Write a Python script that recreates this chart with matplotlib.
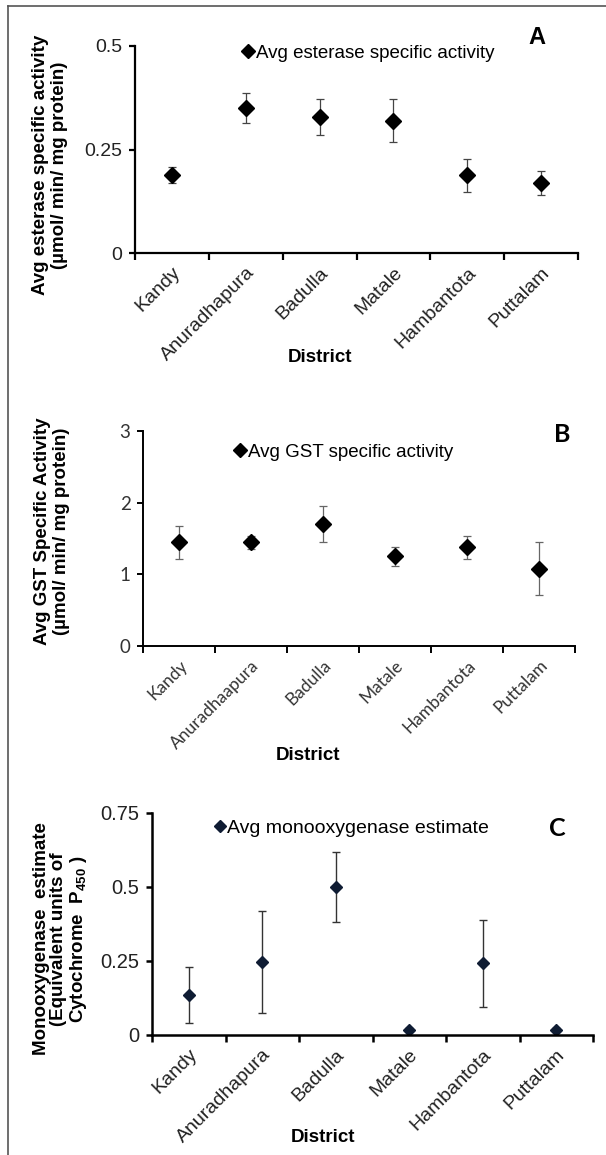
import numpy as np
import matplotlib.pyplot as plt
from matplotlib.lines import Line2D

plt.rcParams['font.family'] = ['Liberation Sans', 'DejaVu Sans']
plt.rcParams['mathtext.fontset'] = 'custom'
plt.rcParams['mathtext.bf'] = 'Liberation Sans:bold'
plt.rcParams['mathtext.rm'] = 'Liberation Sans:bold'
plt.rcParams['mathtext.default'] = 'bf'

# data
districts = ['Kandy', 'Anuradhapura', 'Badulla', 'Matale', 'Hambantota', 'Puttalam']
districts_b = ['Kandy', 'Anuradhaapura', 'Badulla', 'Matale', 'Hambantota', 'Puttalam']

esterase = [0.188, 0.350, 0.328, 0.320, 0.188, 0.169]
esterase_err = [0.020, 0.036, 0.044, 0.051, 0.040, 0.029]

gst = [1.45, 1.45, 1.70, 1.25, 1.38, 1.08]
gst_err = [0.23, 0.09, 0.25, 0.13, 0.16, 0.37]

mono = [0.135, 0.246, 0.500, 0.018, 0.242, 0.018]
mono_err = [0.095, 0.172, 0.119, 0.004, 0.147, 0.004]

W, H = 606, 1155
fig = plt.figure(figsize=(W / 100, H / 100), dpi=100)


def px_axes(l, t, r, b):
    return fig.add_axes([l / W, 1 - b / H, (r - l) / W, (b - t) / H])


def style_axes(ax, labels, tickfont, xsize, ysize, lw, color='black'):
    x = np.arange(len(labels))
    ax.set_xlim(-0.5, len(labels) - 0.5)
    ax.spines['top'].set_visible(False)
    ax.spines['right'].set_visible(False)
    ax.spines['left'].set_linewidth(lw)
    ax.spines['bottom'].set_linewidth(lw)
    # boundary ticks like a spreadsheet chart, labels centred on categories
    ax.set_xticks(np.arange(len(labels) + 1) - 0.5, minor=True)
    ax.tick_params(axis='x', which='minor', length=5, width=lw, direction='out')
    ax.set_xticks(x)
    ax.set_xticklabels(labels, rotation=45, ha='right', va='top', rotation_mode='anchor',
                       fontsize=xsize, family=tickfont, color=color)
    ax.tick_params(axis='x', which='major', length=0, pad=8)
    ax.tick_params(axis='y', length=4, width=lw, direction='out', labelsize=ysize, pad=5,
                   labelcolor=color)
    for t in ax.get_yticklabels():
        t.set_family(tickfont)
    return x


# ---- A: esterase
axA = px_axes(135, 46, 578, 253)
x = style_axes(axA, districts, ['Liberation Sans'], 14, 14, 1.6, '#222222')
axA.errorbar(x, esterase, yerr=esterase_err, fmt='none', ecolor='#444444', elinewidth=0.9, capsize=3, capthick=0.9)
axA.plot(x, esterase, 'D', color='black', markersize=8.5, label='Avg esterase specific activity')
axA.set_ylim(0, 0.5)
axA.set_yticks([0, 0.25, 0.5])
axA.set_yticklabels(['0', '0.25', '0.5'], family=['Liberation Sans'])
axA.legend(loc='center left', bbox_to_anchor=(242 / W, 1 - 53 / H), bbox_transform=fig.transFigure,
           frameon=False, fontsize=13.5, handlelength=0.6, handletextpad=0.15, borderpad=0, borderaxespad=0,
           markerscale=0.8)
fig.text(537 / W, 1 - 37 / H, 'A', fontsize=17, fontweight='bold', ha='center', va='center')
fig.text(50 / W, 1 - 165 / H, 'Avg esterase specific activity\n(µmol/ min/ mg protein)', rotation=90,
         fontsize=13.5, fontweight='bold', ha='center', va='center', multialignment='center', linespacing=1.1)
fig.text(320 / W, 1 - 358 / H, 'District', fontsize=13.5, fontweight='bold', ha='center', va='center')

# ---- B: GST
axB = px_axes(143, 431, 575, 646)
x = style_axes(axB, districts_b, ['Lato', 'DejaVu Sans'], 12.5, 13.5, 1.4, '#333333')
axB.errorbar(x, gst, yerr=gst_err, fmt='none', ecolor='#666666', elinewidth=0.9, capsize=3, capthick=0.9)
axB.plot(x, gst, 'D', color='black', markersize=8.5, label='Avg GST specific activity')
axB.set_ylim(0, 3)
axB.set_yticks([0, 1, 2, 3])
axB.set_yticklabels(['0', '1', '2', '3'], family=['Lato'])
axB.legend(loc='center left', bbox_to_anchor=(234 / W, 1 - 452 / H), bbox_transform=fig.transFigure,
           frameon=False, fontsize=13.5, handlelength=0.6, handletextpad=0.15, borderpad=0, borderaxespad=0,
           markerscale=0.8)
fig.text(562 / W, 1 - 434 / H, 'B', fontsize=18, fontweight='bold', family=['Lato'], ha='center', va='center')
fig.text(52 / W, 1 - 531 / H, 'Avg GST Specific Activity\n(µmol/ min/ mg protein)', rotation=90,
         fontsize=13.5, fontweight='bold', ha='center', va='center', multialignment='center', linespacing=1.1)
fig.text(308 / W, 1 - 755 / H, 'District', fontsize=13.5, fontweight='bold', ha='center', va='center')

# ---- C: monooxygenase
axC = px_axes(152, 813, 593, 1035)
x = style_axes(axC, districts, ['Liberation Sans'], 14, 14.5, 1.8, '#222222')
axC.errorbar(x, mono, yerr=mono_err, fmt='none', ecolor='#333333', elinewidth=1.0, capsize=3, capthick=1.0)
axC.plot(x, mono, 'D', color='#0f1c33', markersize=6.5, label='Avg monooxygenase estimate')
axC.set_ylim(0, 0.75)
axC.set_yticks([0, 0.25, 0.5, 0.75])
axC.set_yticklabels(['0', '0.25', '0.5', '0.75'], family=['Liberation Sans'])
axC.legend(loc='center left', bbox_to_anchor=(215 / W, 1 - 828 / H), bbox_transform=fig.transFigure,
           frameon=False, fontsize=14, handlelength=0.5, handletextpad=0.1, borderpad=0, borderaxespad=0,
           markerscale=0.9)
fig.text(557 / W, 1 - 829 / H, 'C', fontsize=18, fontweight='bold', family=['Lato'], ha='center', va='center')
fig.text(61 / W, 1 - 939 / H, 'Monooxygenase  estimate\n(Equivalent units of\nCytochrome  P$_{450}$ )',
         rotation=90, fontsize=13.5, fontweight='bold', ha='center', va='center', multialignment='center',
         linespacing=1.05)
fig.text(323 / W, 1 - 1137 / H, 'District', fontsize=13.5, fontweight='bold', ha='center', va='center')

# outer frame (left and top edges)
fig.add_artist(Line2D([8 / W, 8 / W], [0, 1 - 6 / H], transform=fig.transFigure, color='#555555', lw=1.2))
fig.add_artist(Line2D([8 / W, 1], [1 - 6 / H, 1 - 6 / H], transform=fig.transFigure, color='#555555', lw=1.2))

fig.savefig('out.png', dpi=100)
